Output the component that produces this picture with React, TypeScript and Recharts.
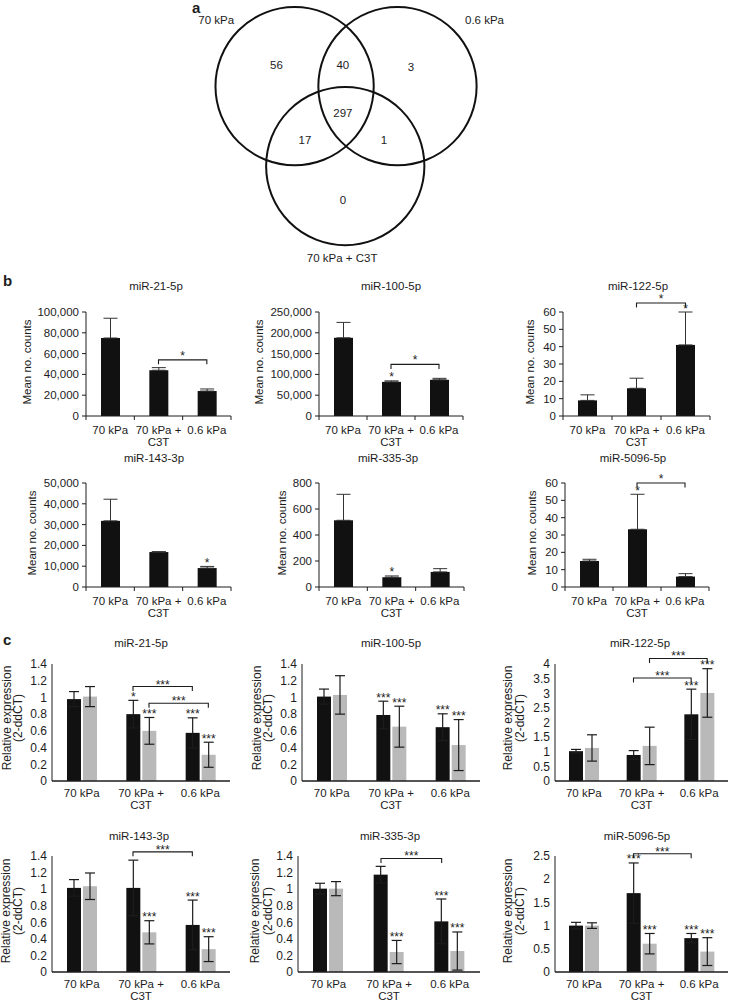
import React from "react";
import { BarChart, Bar, XAxis, YAxis, ErrorBar, ReferenceLine, ScatterChart, Scatter } from "recharts";

const FONT = '"Liberation Sans", Arial, Helvetica, sans-serif';
const INK = "#1c1c1c";
const BLACK = "#111111";
const GREY = "#b9b9b9";

// ---------- a: Venn ----------
const vennSets = ["70 kPa", "0.6 kPa", "70 kPa + C3T"];
const vennRegions = ["70 kPa only", "70 kPa & 0.6 kPa", "0.6 kPa only", "all three", "70 kPa & C3T", "0.6 kPa & C3T", "C3T only"];
const vennCounts = [56, 40, 3, 297, 17, 1, 0];

// venn geometry, in circle-radius units
const setCx = [0, 1.3, 0.64];
const setCy = [0, 0, -1.01];
const setLabelX = [-0.99, 2.4, 0.6];
const setLabelY = [0.84, 0.84, -2.17];
const regionX = [-0.23, 0.61, 1.47, 0.61, 0.13, 1.13, 0.61];
const regionY = [0.27, 0.27, 0.24, -0.34, -0.68, -0.68, -1.44];

// ---------- b / c ----------
const groups = ["70 kPa", "70 kPa + C3T", "0.6 kPa"];

// b: mean no. counts, upper SD
const b21Mean = [75000, 44000, 24000];
const b21Sd = [19000, 2500, 2000];
const b21Sig = ["", "", ""];
const b21Ticks = [0, 20000, 40000, 60000, 80000, 100000];

const b100Mean = [188000, 82000, 87000];
const b100Sd = [37000, 2500, 3500];
const b100Sig = ["", "*", ""];
const b100Ticks = [0, 50000, 100000, 150000, 200000, 250000];

const b122Mean = [9, 16, 41];
const b122Sd = [3.2, 5.8, 19];
const b122Sig = ["", "", "*"];
const b122Ticks = [0, 10, 20, 30, 40, 50, 60];

const b143Mean = [31800, 16800, 9100];
const b143Sd = [10400, 200, 800];
const b143Sig = ["", "", "*"];
const b143Ticks = [0, 10000, 20000, 30000, 40000, 50000];

const b335Mean = [513, 75, 116];
const b335Sd = [200, 10, 25];
const b335Sig = ["", "*", ""];
const b335Ticks = [0, 200, 400, 600, 800];

const b5096Mean = [15, 33.3, 6];
const b5096Sd = [1, 20.2, 1.7];
const b5096Sig = ["", "*", ""];
const b5096Ticks = [0, 10, 20, 30, 40, 50, 60];

// c: relative expression (2-ddCT), black = first series, grey = second
const c21Black = [0.98, 0.8, 0.576];
const c21BlackSd = [0.09, 0.165, 0.18];
const c21Grey = [1.01, 0.6, 0.314];
const c21GreySd = [0.12, 0.16, 0.15];
const c21BlackSig = ["", "*", "***"];
const c21GreySig = ["", "***", "***"];

const c100Black = [1.01, 0.79, 0.644];
const c100BlackSd = [0.09, 0.165, 0.16];
const c100Grey = [1.03, 0.65, 0.43];
const c100GreySd = [0.23, 0.245, 0.305];
const c100BlackSig = ["", "***", "***"];
const c100GreySig = ["", "***", "***"];

const c122Black = [1.02, 0.89, 2.28];
const c122BlackSd = [0.06, 0.15, 0.86];
const c122Grey = [1.13, 1.2, 3.01];
const c122GreySd = [0.45, 0.64, 0.83];
const c122BlackSig = ["", "", "***"];
const c122GreySig = ["", "", "***"];

const c143Black = [1.015, 1.015, 0.568];
const c143BlackSd = [0.1, 0.335, 0.3];
const c143Grey = [1.035, 0.479, 0.276];
const c143GreySd = [0.16, 0.14, 0.15];
const c143BlackSig = ["", "", "***"];
const c143GreySig = ["", "***", "***"];

const c335Black = [1.006, 1.175, 0.611];
const c335BlackSd = [0.065, 0.1, 0.27];
const c335Grey = [1.006, 0.241, 0.253];
const c335GreySd = [0.085, 0.14, 0.23];
const c335BlackSig = ["", "", "***"];
const c335GreySig = ["", "***", "***"];

const c5096Black = [1.0, 1.7, 0.73];
const c5096BlackSd = [0.07, 0.65, 0.1];
const c5096Grey = [1.0, 0.61, 0.44];
const c5096GreySd = [0.06, 0.22, 0.3];
const c5096BlackSig = ["", "***", "***"];
const c5096GreySig = ["", "***", "***"];

const relTicks14 = [0, 0.2, 0.4, 0.6, 0.8, 1, 1.2, 1.4];
const relTicks4 = [0, 0.5, 1, 1.5, 2, 2.5, 3, 3.5, 4];
const relTicks25 = [0, 0.5, 1, 1.5, 2, 2.5];

type Bracket = { from: number; to: number; y: number; label: string; series?: "black" | "grey" };

const b21Brackets: Bracket[] = [{ from: 1, to: 2, y: 54000, label: "*" }];
const b100Brackets: Bracket[] = [{ from: 1, to: 2, y: 124000, label: "*" }];
const b122Brackets: Bracket[] = [{ from: 1, to: 2, y: 65.2, label: "*" }];
const b5096Brackets: Bracket[] = [{ from: 1, to: 2, y: 60, label: "*" }];

const c21Brackets: Bracket[] = [
  { from: 1, to: 2, y: 1.13, label: "***", series: "black" },
  { from: 1, to: 2, y: 0.93, label: "***", series: "grey" },
];
const c122Brackets: Bracket[] = [
  { from: 1, to: 2, y: 3.52, label: "***", series: "black" },
  { from: 1, to: 2, y: 4.19, label: "***", series: "grey" },
];
const c143Brackets: Bracket[] = [{ from: 1, to: 2, y: 1.45, label: "***", series: "black" }];
const c335Brackets: Bracket[] = [{ from: 1, to: 2, y: 1.37, label: "***", series: "black" }];
const c5096Brackets: Bracket[] = [{ from: 1, to: 2, y: 2.55, label: "***", series: "black" }];

const bCharts = [
  { title: "miR-21-5p", mean: b21Mean, sd: b21Sd, sig: b21Sig, ticks: b21Ticks, brackets: b21Brackets },
  { title: "miR-100-5p", mean: b100Mean, sd: b100Sd, sig: b100Sig, ticks: b100Ticks, brackets: b100Brackets },
  { title: "miR-122-5p", mean: b122Mean, sd: b122Sd, sig: b122Sig, ticks: b122Ticks, brackets: b122Brackets },
  { title: "miR-143-3p", mean: b143Mean, sd: b143Sd, sig: b143Sig, ticks: b143Ticks, brackets: [] as Bracket[] },
  { title: "miR-335-3p", mean: b335Mean, sd: b335Sd, sig: b335Sig, ticks: b335Ticks, brackets: [] as Bracket[] },
  { title: "miR-5096-5p", mean: b5096Mean, sd: b5096Sd, sig: b5096Sig, ticks: b5096Ticks, brackets: b5096Brackets },
];

const cCharts = [
  { title: "miR-21-5p", black: c21Black, blackSd: c21BlackSd, grey: c21Grey, greySd: c21GreySd, blackSig: c21BlackSig, greySig: c21GreySig, ticks: relTicks14, brackets: c21Brackets },
  { title: "miR-100-5p", black: c100Black, blackSd: c100BlackSd, grey: c100Grey, greySd: c100GreySd, blackSig: c100BlackSig, greySig: c100GreySig, ticks: relTicks14, brackets: [] as Bracket[] },
  { title: "miR-122-5p", black: c122Black, blackSd: c122BlackSd, grey: c122Grey, greySd: c122GreySd, blackSig: c122BlackSig, greySig: c122GreySig, ticks: relTicks4, brackets: c122Brackets },
  { title: "miR-143-3p", black: c143Black, blackSd: c143BlackSd, grey: c143Grey, greySd: c143GreySd, blackSig: c143BlackSig, greySig: c143GreySig, ticks: relTicks14, brackets: c143Brackets },
  { title: "miR-335-3p", black: c335Black, blackSd: c335BlackSd, grey: c335Grey, greySd: c335GreySd, blackSig: c335BlackSig, greySig: c335GreySig, ticks: relTicks14, brackets: c335Brackets },
  { title: "miR-5096-5p", black: c5096Black, blackSd: c5096BlackSd, grey: c5096Grey, greySd: c5096GreySd, blackSig: c5096BlackSig, greySig: c5096GreySig, ticks: relTicks25, brackets: c5096Brackets },
];

// ---------- layout ----------
type Box = { left: number; top: number; width: number; height: number; plotLeft: number; plotRight: number; plotTop: number; plotBottom: number };

const bBoxes: Box[] = [
  { left: 0, top: 292, width: 240, height: 180, plotLeft: 86, plotRight: 231, plotTop: 312, plotBottom: 416 },
  { left: 240, top: 292, width: 240, height: 180, plotLeft: 319, plotRight: 463, plotTop: 312, plotBottom: 416 },
  { left: 480, top: 292, width: 245, height: 180, plotLeft: 563, plotRight: 710, plotTop: 312, plotBottom: 416 },
  { left: 0, top: 463, width: 240, height: 172, plotLeft: 86, plotRight: 231, plotTop: 483, plotBottom: 587 },
  { left: 240, top: 463, width: 240, height: 172, plotLeft: 319, plotRight: 464, plotTop: 483, plotBottom: 587 },
  { left: 480, top: 463, width: 245, height: 172, plotLeft: 565, plotRight: 709, plotTop: 483, plotBottom: 587 },
];
const bTitlePos = [[156, 290], [391, 290], [638, 290], [154, 462], [388, 462], [633, 462]];
const bYLabelPos = [[27, 362], [259, 362], [530, 362], [32, 533], [282, 533], [532, 533]];

const cBoxes: Box[] = [
  { left: 0, top: 638, width: 250, height: 186, plotLeft: 52, plotRight: 230, plotTop: 664, plotBottom: 781 },
  { left: 250, top: 638, width: 240, height: 186, plotLeft: 302, plotRight: 480, plotTop: 664, plotBottom: 781 },
  { left: 490, top: 638, width: 240, height: 186, plotLeft: 555, plotRight: 728, plotTop: 664, plotBottom: 781 },
  { left: 0, top: 832, width: 250, height: 169, plotLeft: 52, plotRight: 230, plotTop: 856, plotBottom: 972 },
  { left: 250, top: 832, width: 240, height: 169, plotLeft: 298, plotRight: 480, plotTop: 856, plotBottom: 972 },
  { left: 490, top: 832, width: 240, height: 169, plotLeft: 555, plotRight: 728, plotTop: 856, plotBottom: 972 },
];
const cTitlePos = [[141, 647], [391, 647], [640, 647], [139, 840], [390, 840], [637, 840]];
const cYLabelPos = [[7, 18, 718], [257, 268, 718], [508, 520, 718], [6, 18, 911], [255, 268, 911], [508, 520, 911]];

const VENN_W = 364;
const VENN_H = 272;
const VENN_XDOM: [number, number] = [-1.6, 3.0];
const VENN_YDOM: [number, number] = [-2.35, 1.09];
const VENN_R = VENN_W / (VENN_XDOM[1] - VENN_XDOM[0]);

// ---------- pieces ----------
function bracketShape(dx: number, label: string, textDy: number) {
  return (p: any) => {
    const x1 = p.x1 + dx;
    const x2 = p.x2 + dx;
    const y = p.y1;
    return (
      <g>
        <path d={`M${x1},${y + 4.5}V${y}H${x2}V${y + 4.5}`} fill="none" stroke={INK} strokeWidth={1.1} />
        <text x={(x1 + x2) / 2} y={y + textDy} textAnchor="middle" fontSize={12} fill={INK} fontFamily={FONT}>
          {label}
        </text>
      </g>
    );
  };
}

function barWithSig(fill: string, valueKey: string, sdKey: string, sigKey: string) {
  return (p: any) => {
    const { x, y, width, height, payload } = p;
    const v = payload[valueKey];
    const ppu = v > 0 ? height / v : 0;
    const top = y - payload[sdKey] * ppu;
    const sig = payload[sigKey];
    return (
      <g>
        <rect x={x} y={y} width={width} height={height} fill={fill} />
        {sig ? (
          <text x={x + width / 2} y={top + 0.5} textAnchor="middle" fontSize={12} fill={INK} fontFamily={FONT}>
            {sig}
          </text>
        ) : null}
      </g>
    );
  };
}

function GroupTick(props: any) {
  const { x, y, payload, index, edges, half, first, fontSize } = props;
  const v: string = payload.value;
  const k = v.indexOf("+");
  const lines = k >= 0 ? [v.slice(0, k + 1), v.slice(k + 2)] : [v];
  const h = typeof payload.offset === "number" && payload.offset > 0 ? payload.offset : half;
  return (
    <g>
      {edges ? <line x1={x - h} x2={x - h} y1={y} y2={y + 4} stroke={INK} /> : null}
      {edges && index === groups.length - 1 ? <line x1={x + h} x2={x + h} y1={y} y2={y + 4} stroke={INK} /> : null}
      {lines.map((s, i) => (
        <text key={i} x={x} y={y + first + i * 12} textAnchor="middle" fontSize={fontSize} fill={INK} fontFamily={FONT}>
          {s}
        </text>
      ))}
    </g>
  );
}

function CountsChart({ cfg, box }: { cfg: (typeof bCharts)[number]; box: Box }) {
  const data = groups.map((g, i) => ({
    group: g,
    mean: cfg.mean[i],
    sd: cfg.sd[i],
    err: [0, cfg.sd[i]],
    sig: cfg.sig[i],
  }));
  const max = cfg.ticks[cfg.ticks.length - 1];
  return (
    <div style={{ position: "absolute", left: box.left, top: box.top }}>
      <BarChart
        width={box.width}
        height={box.height}
        data={data}
        margin={{ top: box.plotTop - box.top, right: box.left + box.width - box.plotRight, bottom: 0, left: 0 }}
      >
        <XAxis
          dataKey="group"
          interval={0}
          height={box.top + box.height - box.plotBottom}
          tickLine={false}
          tickSize={0}
          tickMargin={0}
          axisLine={{ stroke: INK }}
          tick={<GroupTick edges half={(box.plotRight - box.plotLeft) / 6} first={18} fontSize={11.5} />}
        />
        <YAxis
          width={box.plotLeft - box.left}
          domain={[0, max]}
          ticks={cfg.ticks}
          interval={0}
          tickFormatter={(v: number) => v.toLocaleString("en-US")}
          tick={{ fontSize: 11.5, fill: INK, fontFamily: FONT }}
          tickSize={4}
          tickMargin={3}
          axisLine={{ stroke: INK }}
          tickLine={{ stroke: INK }}
        />
        <Bar dataKey="mean" barSize={19} fill={BLACK} isAnimationActive={false} shape={barWithSig(BLACK, "mean", "sd", "sig")}>
          <ErrorBar dataKey="err" width={7} stroke="#333" strokeWidth={1} direction="y" isAnimationActive={false} />
        </Bar>
        {cfg.brackets.map((b, i) => (
          <ReferenceLine
            key={i}
            segment={[{ x: groups[b.from], y: b.y }, { x: groups[b.to], y: b.y }]}
            ifOverflow="visible"
            shape={bracketShape(0, b.label, 0)}
          />
        ))}
      </BarChart>
    </div>
  );
}

const C_BAR = 14;
const C_GAP = 2;

function ExprChart({ cfg, box }: { cfg: (typeof cCharts)[number]; box: Box }) {
  const data = groups.map((g, i) => ({
    group: g,
    black: cfg.black[i],
    blackSd: cfg.blackSd[i],
    blackSig: cfg.blackSig[i],
    grey: cfg.grey[i],
    greySd: cfg.greySd[i],
    greySig: cfg.greySig[i],
  }));
  const max = cfg.ticks[cfg.ticks.length - 1];
  const shift = (C_BAR + C_GAP) / 2;
  return (
    <div style={{ position: "absolute", left: box.left, top: box.top }}>
      <BarChart
        width={box.width}
        height={box.height}
        data={data}
        barGap={C_GAP}
        margin={{ top: box.plotTop - box.top, right: box.left + box.width - box.plotRight, bottom: 0, left: 0 }}
      >
        <XAxis
          dataKey="group"
          interval={0}
          height={box.top + box.height - box.plotBottom}
          tickLine={false}
          tickSize={0}
          tickMargin={0}
          axisLine={{ stroke: INK, strokeWidth: 1.6 }}
          tick={<GroupTick edges={false} half={0} first={16} fontSize={11.5} />}
        />
        <YAxis
          width={box.plotLeft - box.left}
          domain={[0, max]}
          ticks={cfg.ticks}
          interval={0}
          tick={{ fontSize: 12, fill: INK, fontFamily: FONT }}
          tickLine={false}
          tickSize={0}
          tickMargin={5}
          axisLine={{ stroke: INK }}
        />
        <Bar dataKey="black" barSize={C_BAR} fill={BLACK} isAnimationActive={false} shape={barWithSig(BLACK, "black", "blackSd", "blackSig")}>
          <ErrorBar dataKey="blackSd" width={5} stroke={INK} strokeWidth={1.2} direction="y" isAnimationActive={false} />
        </Bar>
        <Bar dataKey="grey" barSize={C_BAR} fill={GREY} isAnimationActive={false} shape={barWithSig(GREY, "grey", "greySd", "greySig")}>
          <ErrorBar dataKey="greySd" width={5} stroke={INK} strokeWidth={1.2} direction="y" isAnimationActive={false} />
        </Bar>
        {cfg.brackets.map((b, i) => (
          <ReferenceLine
            key={i}
            segment={[{ x: groups[b.from], y: b.y }, { x: groups[b.to], y: b.y }]}
            ifOverflow="visible"
            shape={bracketShape(b.series === "grey" ? shift : -shift, b.label, 2)}
          />
        ))}
      </BarChart>
    </div>
  );
}

function Venn() {
  const circles = vennSets.map((s, i) => ({ name: s, x: setCx[i], y: setCy[i] }));
  const setLabels = vennSets.map((s, i) => ({ name: s, x: setLabelX[i], y: setLabelY[i] }));
  const regions = vennCounts.map((c, i) => ({ name: vennRegions[i], count: c, x: regionX[i], y: regionY[i] }));
  return (
    <div style={{ position: "absolute", left: 168, top: 0 }}>
      <ScatterChart width={VENN_W} height={VENN_H} margin={{ top: 0, right: 0, bottom: 0, left: 0 }}>
        <XAxis type="number" dataKey="x" domain={VENN_XDOM} hide />
        <YAxis type="number" dataKey="y" domain={VENN_YDOM} hide />
        <Scatter
          data={circles}
          isAnimationActive={false}
          shape={(p: any) => <circle cx={p.cx} cy={p.cy} r={VENN_R} fill="none" stroke={BLACK} strokeWidth={2} />}
        />
        <Scatter
          data={regions}
          isAnimationActive={false}
          shape={(p: any) => (
            <text x={p.cx} y={p.cy} dy="0.35em" textAnchor="middle" fontSize={11.5} fill={INK} fontFamily={FONT}>
              {p.payload.count}
            </text>
          )}
        />
        <Scatter
          data={setLabels}
          isAnimationActive={false}
          shape={(p: any) => (
            <text x={p.cx} y={p.cy} dy="0.35em" textAnchor="middle" fontSize={11.5} fill={INK} fontFamily={FONT}>
              {p.payload.name}
            </text>
          )}
        />
      </ScatterChart>
    </div>
  );
}

export default function App() {
  return (
    <div style={{ position: "absolute", left: 0, top: 0, width: 730, height: 1001, background: "#fff", fontFamily: FONT, overflow: "hidden" }}>
      <Venn />
      {bCharts.map((c, i) => (
        <CountsChart key={"b" + i} cfg={c} box={bBoxes[i]} />
      ))}
      {cCharts.map((c, i) => (
        <ExprChart key={"c" + i} cfg={c} box={cBoxes[i]} />
      ))}
      <svg width={730} height={1001} style={{ position: "absolute", left: 0, top: 0, pointerEvents: "none" }}>
        <g fontFamily={FONT} fill={INK}>
          <text x={192} y={13} fontSize={15} fontWeight="bold">a</text>
          <text x={3} y={286} fontSize={15} fontWeight="bold">b</text>
          <text x={3} y={645} fontSize={15} fontWeight="bold">c</text>
          {bCharts.map((c, i) => (
            <text key={"bt" + i} x={bTitlePos[i][0]} y={bTitlePos[i][1]} fontSize={11.5} textAnchor="middle">
              {c.title}
            </text>
          ))}
          {cCharts.map((c, i) => (
            <text key={"ct" + i} x={cTitlePos[i][0]} y={cTitlePos[i][1]} fontSize={11.5} textAnchor="middle">
              {c.title}
            </text>
          ))}
          {bYLabelPos.map(([x, y], i) => (
            <text key={"by" + i} x={x} y={y} dy="0.35em" fontSize={11.5} textAnchor="middle" transform={`rotate(-90 ${x} ${y})`}>
              Mean no. counts
            </text>
          ))}
          {cYLabelPos.map(([x1, x2, y], i) => (
            <g key={"cy" + i}>
              <text x={x1} y={y} dy="0.35em" fontSize={12} textAnchor="middle" transform={`rotate(-90 ${x1} ${y})`}>
                Relative expression
              </text>
              <text x={x2} y={y} dy="0.35em" fontSize={12} textAnchor="middle" transform={`rotate(-90 ${x2} ${y})`}>
                (2-ddCT)
              </text>
            </g>
          ))}
        </g>
      </svg>
    </div>
  );
}
